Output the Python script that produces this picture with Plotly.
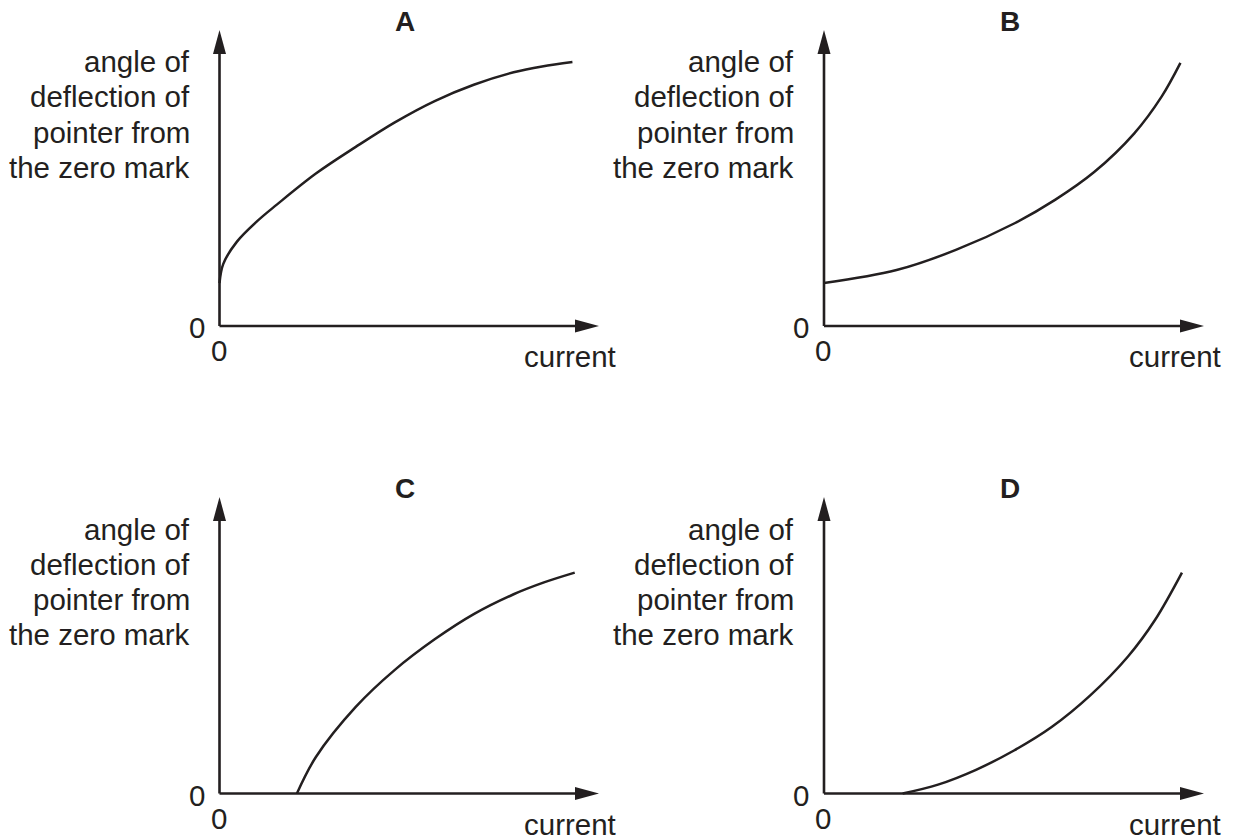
import plotly.graph_objects as go

# panel letters and curves (x = current, y = angle), axis units 0..10
panels = ["A", "B", "C", "D"]

a_current = [0, 0.1, 0.46, 1.0, 1.51, 2.54, 3.59, 4.62, 5.67, 6.70, 7.75, 8.5, 9.30]
a_angle = [1.45, 2.1, 2.85, 3.55, 4.1, 5.15, 6.05, 6.88, 7.6, 8.15, 8.57, 8.77, 8.92]

b_current = [0, 1.91, 3.47, 5.03, 6.08, 7.11, 8.16, 8.88, 9.38]
b_angle = [1.45, 1.89, 2.57, 3.48, 4.26, 5.2, 6.5, 7.74, 8.89]

c_current = [2.04, 2.54, 3.59, 4.62, 5.67, 6.70, 7.75, 8.55, 9.36]
c_angle = [0, 1.23, 2.92, 4.17, 5.2, 6.05, 6.72, 7.12, 7.45]

d_current = [2.07, 3.0, 4.0, 5.0, 6.0, 7.0, 8.0, 8.71, 9.42]
d_angle = [0, 0.30, 0.80, 1.45, 2.25, 3.30, 4.62, 5.85, 7.45]

curves = [(a_current, a_angle), (b_current, b_angle), (c_current, c_angle), (d_current, d_angle)]

y_label_lines = ["angle of", "deflection of", "pointer from", "the zero mark"]
x_label = "current"
origin_label = "0"
axis_max = 10
pad = 0.5  # extra room so the axis lines and arrowheads are not clipped

W, H = 1238, 837
INK = "#231f20"
FONT = "Liberation Sans, Arial, sans-serif"

# where 0..axis_max sits in pixels: (left, right), (top, bottom)
cols = [(219.5, 599), (824, 1204)]
rows = [(30, 326), (497, 793.5)]

fig = go.Figure()
layout = dict(width=W, height=H, margin=dict(l=0, r=0, t=0, b=0),
              paper_bgcolor="white", plot_bgcolor="white", showlegend=False)
shapes, annotations = [], []

for i, name in enumerate(panels):
    r, c = divmod(i, 2)
    n = "" if i == 0 else str(i + 1)
    xa, ya = "x" + n, "y" + n
    (x0, x1), (y0, y1) = cols[c], rows[r]
    px_x = (x1 - x0) / axis_max
    px_y = (y1 - y0) / axis_max
    axis_style = dict(range=[-pad, axis_max + pad], showgrid=False, zeroline=False,
                      showticklabels=False, showline=False, ticks="", fixedrange=True)
    layout["xaxis" + n] = dict(domain=[(x0 - pad * px_x) / W, (x1 + pad * px_x) / W],
                               anchor=ya, **axis_style)
    layout["yaxis" + n] = dict(domain=[1 - (y1 + pad * px_y) / H, 1 - (y0 - pad * px_y) / H],
                               anchor=xa, **axis_style)

    cx, cy = curves[i]
    fig.add_trace(go.Scatter(x=cx, y=cy, mode="lines", xaxis=xa, yaxis=ya,
                             line=dict(color=INK, width=2.5, shape="spline"),
                             hoverinfo="skip"))

    # axes with arrowheads
    line = dict(color=INK, width=2.6)
    shapes.append(dict(type="line", xref=xa, yref=ya, x0=0, y0=0, x1=axis_max * 0.96, y1=0, line=line))
    shapes.append(dict(type="line", xref=xa, yref=ya, x0=0, y0=0, x1=0, y1=axis_max * 0.96, line=line))
    shapes.append(dict(type="path", xref=xa, yref=ya, xsizemode="pixel", ysizemode="pixel",
                       xanchor=axis_max, yanchor=0, path="M0,0 L-24,-6.5 L-24,6.5 Z",
                       fillcolor=INK, line=dict(width=0)))
    shapes.append(dict(type="path", xref=xa, yref=ya, xsizemode="pixel", ysizemode="pixel",
                       xanchor=0, yanchor=axis_max, path="M0,0 L-6.5,-24 L6.5,-24 Z",
                       fillcolor=INK, line=dict(width=0)))

    xd, yd = xa + " domain", ya + " domain"
    txt = dict(family=FONT, size=29.5, color=INK)
    # positions relative to the 0..axis_max box, via pixel shifts from its corners
    top_frac = (axis_max + pad) / (axis_max + 2 * pad)
    zero_frac = pad / (axis_max + 2 * pad)
    annotations.append(dict(text="<b>" + name + "</b>", xref=xd, yref=yd,
                            x=zero_frac + 0.489 * (1 - 2 * zero_frac), y=top_frac,
                            yshift=8, xanchor="center", yanchor="middle", showarrow=False,
                            font=dict(family=FONT, size=28, color=INK)))
    for k, ln in enumerate(y_label_lines):
        annotations.append(dict(text=ln, xref=xd, yref=yd, x=zero_frac, y=top_frac, xshift=-28,
                                yshift=-32 - 35 * k, xanchor="right", yanchor="middle",
                                showarrow=False, font=txt))
    annotations.append(dict(text=origin_label, xref=xd, yref=yd, x=zero_frac, y=zero_frac,
                            xshift=-13, yshift=-2, xanchor="right", yanchor="middle",
                            showarrow=False, font=txt))
    annotations.append(dict(text=origin_label, xref=xd, yref=yd, x=zero_frac, y=zero_frac,
                            xshift=-1, yshift=-25, xanchor="center", yanchor="middle",
                            showarrow=False, font=txt))
    annotations.append(dict(text=x_label, xref=xd, yref=yd, x=top_frac, y=zero_frac, xshift=19,
                            yshift=-31, xanchor="right", yanchor="middle", showarrow=False,
                            font=txt))

layout["shapes"] = shapes
layout["annotations"] = annotations
fig.update_layout(**layout)
fig.write_html("out.html", config={"displayModeBar": False},
               post_script="document.body.style.margin='0';")
